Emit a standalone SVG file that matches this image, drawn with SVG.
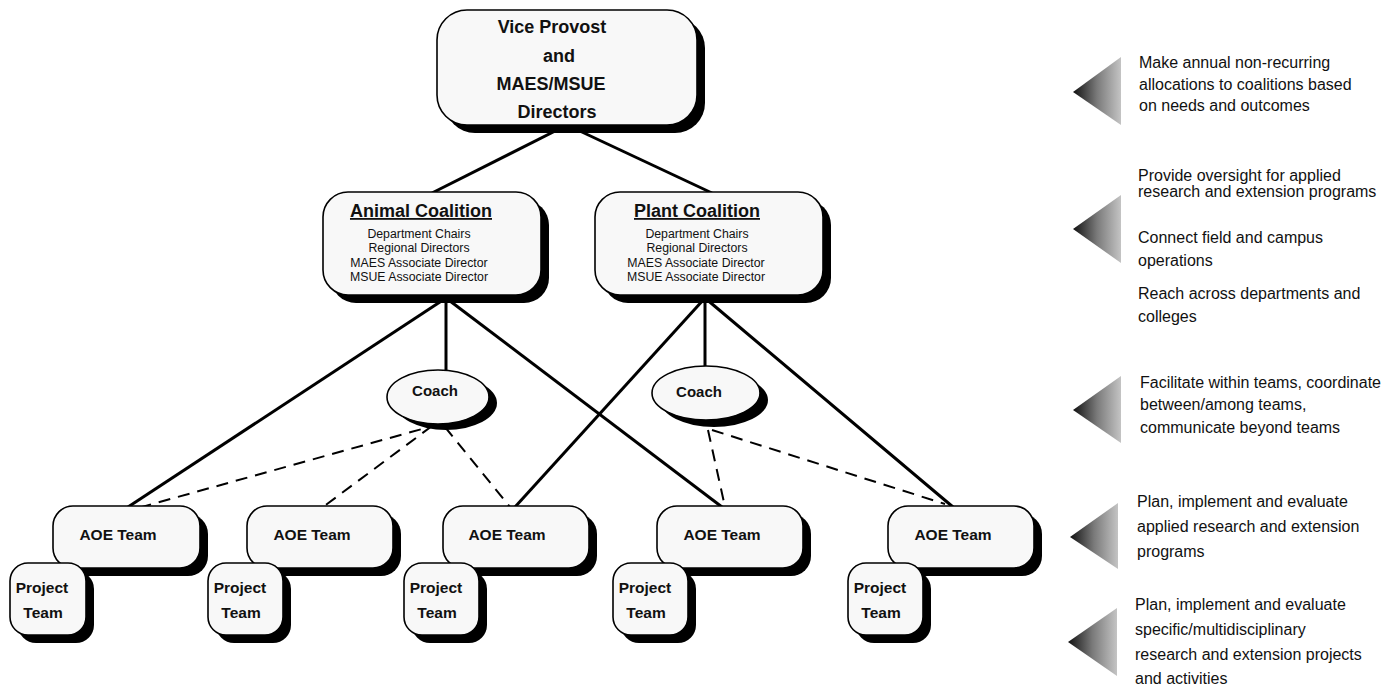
<svg xmlns="http://www.w3.org/2000/svg" width="1395" height="688" viewBox="0 0 1395 688">
<defs>
<linearGradient id="tri" x1="0" y1="0" x2="1" y2="0">
<stop offset="0" stop-color="#111"/>
<stop offset="0.5" stop-color="#7a7a7a"/>
<stop offset="1" stop-color="#c4c4c4"/>
</linearGradient>
<style>
.box{fill:#f8f8f8;stroke:#000;stroke-width:1.6}
.sh{fill:#000}
.b{font-family:"Liberation Sans",Arial,sans-serif;font-weight:bold;fill:#111}
.r{font-family:"Liberation Sans",Arial,sans-serif;fill:#111}
.solid{stroke:#000;stroke-width:3;fill:none}
.dash{stroke:#000;stroke-width:2;fill:none;stroke-dasharray:12 8}
.desc{font-family:"Liberation Sans",Arial,sans-serif;font-size:16px;fill:#111}
</style>
</defs>
<rect width="1395" height="688" fill="#fff"/>
<g id="connectors">
<line class="solid" x1="567" y1="125" x2="432" y2="193"/>
<line class="solid" x1="567" y1="125" x2="712" y2="193"/>
<line class="solid" x1="446" y1="298" x2="446" y2="372"/>
<line class="solid" x1="446" y1="298" x2="128" y2="507"/>
<line class="solid" x1="446" y1="298" x2="722" y2="507"/>
<line class="solid" x1="705" y1="298" x2="705" y2="368"/>
<line class="solid" x1="705" y1="298" x2="515" y2="507"/>
<line class="solid" x1="705" y1="298" x2="953" y2="507"/>
<line class="dash" x1="440" y1="424" x2="138" y2="508"/>
<line class="dash" x1="432" y1="426" x2="323" y2="507"/>
<line class="dash" x1="445" y1="427" x2="510" y2="507"/>
<line class="dash" x1="708" y1="430" x2="725" y2="507"/>
<line class="dash" x1="712" y1="430" x2="945" y2="504"/>
</g>
<g id="vp">
<rect class="sh" x="445" y="18" width="260" height="115" rx="30"/>
<rect class="box" x="437" y="10" width="260" height="115" rx="30"/>
<text class="b" font-size="18" text-anchor="middle" x="552" y="33">Vice Provost</text>
<text class="b" font-size="18" text-anchor="middle" x="559" y="62">and</text>
<text class="b" font-size="18" text-anchor="middle" x="551" y="90">MAES/MSUE</text>
<text class="b" font-size="18" text-anchor="middle" x="557" y="118">Directors</text>
</g>
<g id="animal">
<rect class="sh" x="331" y="200" width="218" height="103" rx="25"/>
<rect class="box" x="323" y="192" width="218" height="103" rx="25"/>
<text class="b" font-size="18" text-anchor="middle" x="421" y="217" text-decoration="underline">Animal Coalition</text>
<text class="r" font-size="12.3" text-anchor="middle" x="419" y="238">Department Chairs</text>
<text class="r" font-size="12.3" text-anchor="middle" x="419" y="252">Regional Directors</text>
<text class="r" font-size="12.3" text-anchor="middle" x="419" y="267">MAES Associate Director</text>
<text class="r" font-size="12.3" text-anchor="middle" x="419" y="281">MSUE Associate Director</text>
</g>
<g id="plant">
<rect class="sh" x="603" y="200" width="228" height="103" rx="25"/>
<rect class="box" x="595" y="192" width="228" height="103" rx="25"/>
<text class="b" font-size="18" text-anchor="middle" x="697" y="217" text-decoration="underline">Plant Coalition</text>
<text class="r" font-size="12.3" text-anchor="middle" x="697" y="238">Department Chairs</text>
<text class="r" font-size="12.3" text-anchor="middle" x="697" y="252">Regional Directors</text>
<text class="r" font-size="12.3" text-anchor="middle" x="696" y="267">MAES Associate Director</text>
<text class="r" font-size="12.3" text-anchor="middle" x="696" y="281">MSUE Associate Director</text>
</g>
<g id="coach1">
<ellipse class="sh" cx="446" cy="403" rx="51" ry="27"/>
<ellipse class="box" cx="438" cy="397" rx="51" ry="27"/>
<text class="b" font-size="15" text-anchor="middle" x="435" y="396">Coach</text>
</g>
<g id="coach2">
<ellipse class="sh" cx="714" cy="400" rx="54" ry="27"/>
<ellipse class="box" cx="706" cy="393" rx="54" ry="27"/>
<text class="b" font-size="15" text-anchor="middle" x="699" y="397">Coach</text>
</g>
<g id="aoe1">
<rect class="sh" x="61" y="514" width="147" height="62" rx="20"/>
<rect class="box" x="53" y="506" width="147" height="62" rx="20"/>
<text class="b" font-size="15.5" text-anchor="middle" x="118" y="540">AOE Team</text>
</g>
<g id="pt1">
<rect class="sh" x="18" y="571" width="76" height="72" rx="18"/>
<rect class="box" x="10" y="563" width="76" height="72" rx="18"/>
<text class="b" font-size="15.5" text-anchor="middle" x="42" y="593">Project</text>
<text class="b" font-size="15.5" text-anchor="middle" x="43" y="618">Team</text>
</g>
<g id="aoe2">
<rect class="sh" x="255" y="514" width="146" height="62" rx="20"/>
<rect class="box" x="247" y="506" width="146" height="62" rx="20"/>
<text class="b" font-size="15.5" text-anchor="middle" x="312" y="540">AOE Team</text>
</g>
<g id="pt2">
<rect class="sh" x="216" y="571" width="75" height="72" rx="18"/>
<rect class="box" x="208" y="563" width="75" height="72" rx="18"/>
<text class="b" font-size="15.5" text-anchor="middle" x="240" y="593">Project</text>
<text class="b" font-size="15.5" text-anchor="middle" x="241" y="618">Team</text>
</g>
<g id="aoe3">
<rect class="sh" x="451" y="514" width="146" height="62" rx="20"/>
<rect class="box" x="443" y="506" width="146" height="62" rx="20"/>
<text class="b" font-size="15.5" text-anchor="middle" x="507" y="540">AOE Team</text>
</g>
<g id="pt3">
<rect class="sh" x="412" y="571" width="75" height="72" rx="18"/>
<rect class="box" x="404" y="563" width="75" height="72" rx="18"/>
<text class="b" font-size="15.5" text-anchor="middle" x="436" y="593">Project</text>
<text class="b" font-size="15.5" text-anchor="middle" x="437" y="618">Team</text>
</g>
<g id="aoe4">
<rect class="sh" x="665" y="514" width="146" height="62" rx="20"/>
<rect class="box" x="657" y="506" width="146" height="62" rx="20"/>
<text class="b" font-size="15.5" text-anchor="middle" x="722" y="540">AOE Team</text>
</g>
<g id="pt4">
<rect class="sh" x="621" y="571" width="75" height="72" rx="18"/>
<rect class="box" x="613" y="563" width="75" height="72" rx="18"/>
<text class="b" font-size="15.5" text-anchor="middle" x="645" y="593">Project</text>
<text class="b" font-size="15.5" text-anchor="middle" x="646" y="618">Team</text>
</g>
<g id="aoe5">
<rect class="sh" x="896" y="514" width="146" height="62" rx="20"/>
<rect class="box" x="888" y="506" width="146" height="62" rx="20"/>
<text class="b" font-size="15.5" text-anchor="middle" x="953" y="540">AOE Team</text>
</g>
<g id="pt5">
<rect class="sh" x="856" y="571" width="75" height="72" rx="18"/>
<rect class="box" x="848" y="563" width="75" height="72" rx="18"/>
<text class="b" font-size="15.5" text-anchor="middle" x="880" y="593">Project</text>
<text class="b" font-size="15.5" text-anchor="middle" x="881" y="618">Team</text>
</g>
<g id="legend">
<polygon fill="url(#tri)" points="1073,92 1121,57 1121,125"/>
<polygon fill="url(#tri)" points="1073,229 1121,195 1121,263"/>
<polygon fill="url(#tri)" points="1073,410 1121,376 1121,443"/>
<polygon fill="url(#tri)" points="1070,537 1118,503 1118,569"/>
<polygon fill="url(#tri)" points="1068,642 1117,608 1117,676"/>
<text class="desc" x="1139" y="68">Make annual non-recurring</text>
<text class="desc" x="1139" y="90">allocations to coalitions based</text>
<text class="desc" x="1139" y="111">on needs and outcomes</text>
<text class="desc" x="1138" y="181">Provide oversight for applied</text>
<text class="desc" x="1138" y="197">research and extension programs</text>
<text class="desc" x="1138" y="243">Connect field and campus</text>
<text class="desc" x="1138" y="266">operations</text>
<text class="desc" x="1138" y="299">Reach across departments and</text>
<text class="desc" x="1138" y="322">colleges</text>
<text class="desc" x="1140" y="388">Facilitate within teams, coordinate</text>
<text class="desc" x="1140" y="410">between/among teams,</text>
<text class="desc" x="1140" y="433">communicate beyond teams</text>
<text class="desc" x="1137" y="507">Plan, implement and evaluate</text>
<text class="desc" x="1137" y="532">applied research and extension</text>
<text class="desc" x="1137" y="557">programs</text>
<text class="desc" x="1135" y="610">Plan, implement and evaluate</text>
<text class="desc" x="1135" y="635">specific/multidisciplinary</text>
<text class="desc" x="1135" y="660">research and extension projects</text>
<text class="desc" x="1135" y="684">and activities</text>
</g>
</svg>
